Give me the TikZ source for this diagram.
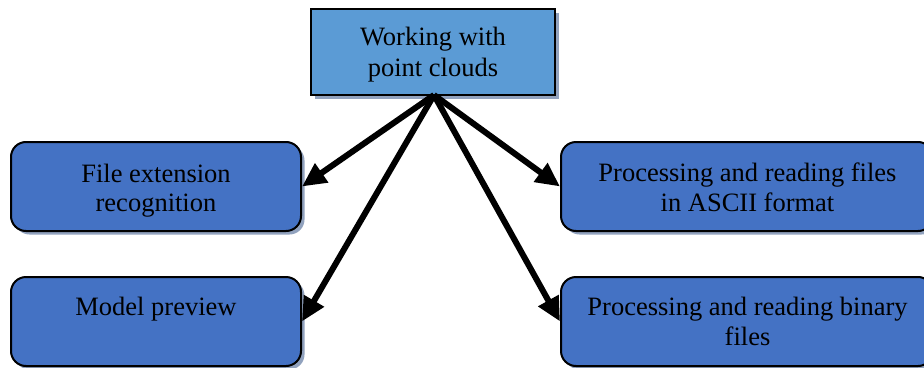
\documentclass[tikz,border=0pt]{standalone}
\usepackage{fontspec}
\setmainfont{Liberation Serif}
\usetikzlibrary{arrows.meta,shadows}
\definecolor{topblue}{HTML}{5B9BD5}
\definecolor{boxblue}{HTML}{4472C4}
\definecolor{shadowc}{RGB}{145,162,190}
\tikzset{
  boxbase/.style={draw=black, line width=2pt, inner sep=0pt,
    drop shadow={shadow xshift=3.5pt, shadow yshift=-3.5pt, fill=shadowc, opacity=1}},
  topbox/.style={boxbase, fill=topblue},
  subbox/.style={boxbase, fill=boxblue, rounded corners=15pt},
  lbl/.style={anchor=base, inner sep=0pt, font=\fontsize{26.5}{31}\selectfont},
  arr/.style={line width=6pt, -{Triangle[length=24pt,width=22pt]}}
}
\begin{document}
\begin{tikzpicture}[x=1pt,y=-1pt]
\useasboundingbox (0,0) rectangle (924,367);
\begin{scope}
\clip (0,0) rectangle (924,367);
\node[topbox, minimum width=244pt, minimum height=86pt] (top) at (433,52) {};
\node[subbox, minimum width=290pt, minimum height=89pt] (l1) at (156,186.5) {};
\node[subbox, minimum width=290pt, minimum height=89pt] (l2) at (156,321.5) {};
\node[subbox, minimum width=372pt, minimum height=89pt] (r1) at (747,186.5) {};
\node[subbox, minimum width=372pt, minimum height=89pt] (r2) at (747,321.5) {};
\end{scope}
\node[lbl] (t1) at (433,45) {Working with};
\node[lbl] (t2) at (433,76) {point clouds};
\node[lbl] (a1) at (156,182) {File extension};
\node[lbl] (a2) at (156,211) {recognition};
\node[lbl] (b1) at (156,315) {Model preview};
\node[lbl] (c1) at (747.5,181) {Processing and reading files};
\node[lbl] (c2) at (747.5,211) {in ASCII format};
\node[lbl] (d1) at (747.5,315) {Processing and reading binary};
\node[lbl] (d2) at (747.5,345) {files};
\coordinate (src) at (434,95);
\draw[arr] (src) -- (l1.east);
\draw[arr] (src) -- (l2.east);
\draw[arr] (src) -- (r1.west);
\draw[arr] (src) -- (r2.west);
\end{tikzpicture}
\end{document}
